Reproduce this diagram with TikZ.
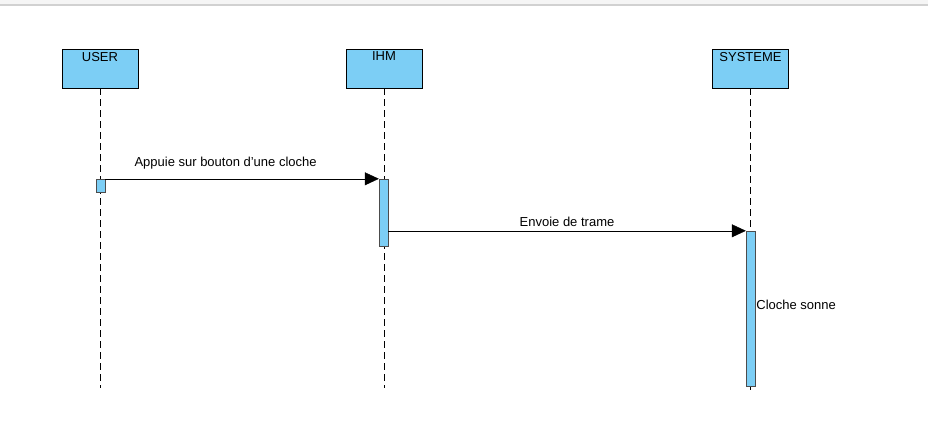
\documentclass[tikz,border=0pt]{standalone}
\usepackage{fontspec}
\setmainfont{Liberation Sans}
\usetikzlibrary{positioning,arrows.meta}
\definecolor{actblue}{RGB}{124,206,245}

\begin{document}
\begin{tikzpicture}[x=1pt,y=-1pt,
		font=\fontsize{13}{15}\selectfont,
		objbox/.style={shape=rectangle,draw=black,fill=actblue,minimum width=76pt,minimum height=39pt,inner sep=0pt},
		actbar/.style={shape=rectangle,draw=black!70,fill=actblue,minimum width=9pt,inner sep=0pt},
		lifeline/.style={draw=black,dash pattern=on 7pt off 4pt},
		msg/.style={-{Triangle[length=14pt,width=13pt]},draw=black}]
		\useasboundingbox (0,0) rectangle (928,424);
		\fill[black!4] (0,0) rectangle (928,5);
		\draw[black!18,line width=1.2pt] (0,5) -- (928,5);
		
		\node[objbox,label={[anchor=north,inner sep=3pt]north:USER}] (user) at (100,68.5) {};
		\node[objbox,label={[anchor=north,inner sep=3pt]north:IHM}] (ihm) at (384,68.5) {};
		\node[objbox,label={[anchor=north,inner sep=3pt]north:SYSTEME}] (sys) at (750.5,68.5) {};
		
		\coordinate (userend) at (100,388);
		\coordinate (ihmend) at (384,388);
		\coordinate (sysend) at (750.5,390);
		\draw[lifeline] (user) -- (userend);
		\draw[lifeline] (ihm) -- (ihmend);
		\draw[lifeline] (sys) -- (sysend);
		
		\node[actbar,minimum height=13pt] (uact) at (100.5,185.5) {};
		\node[actbar,minimum height=67pt] (iact) at (383.5,212.5) {};
		\node[actbar,minimum height=155pt] (sact) at (750.5,308.5) {};
		
		\draw[msg] (uact.north east) -- node[pos=0.44,above=6pt]{Appuie sur bouton d'une cloche} (iact.north west);
		\draw[msg] (iact.east |- sact.north) -- node[above=1pt]{Envoie de trame} (sact.north west);
		\node[anchor=west,inner sep=1pt] (sonne) at (sact.east |- 0,305) {Cloche sonne};
		\end{tikzpicture}
\end{document}
